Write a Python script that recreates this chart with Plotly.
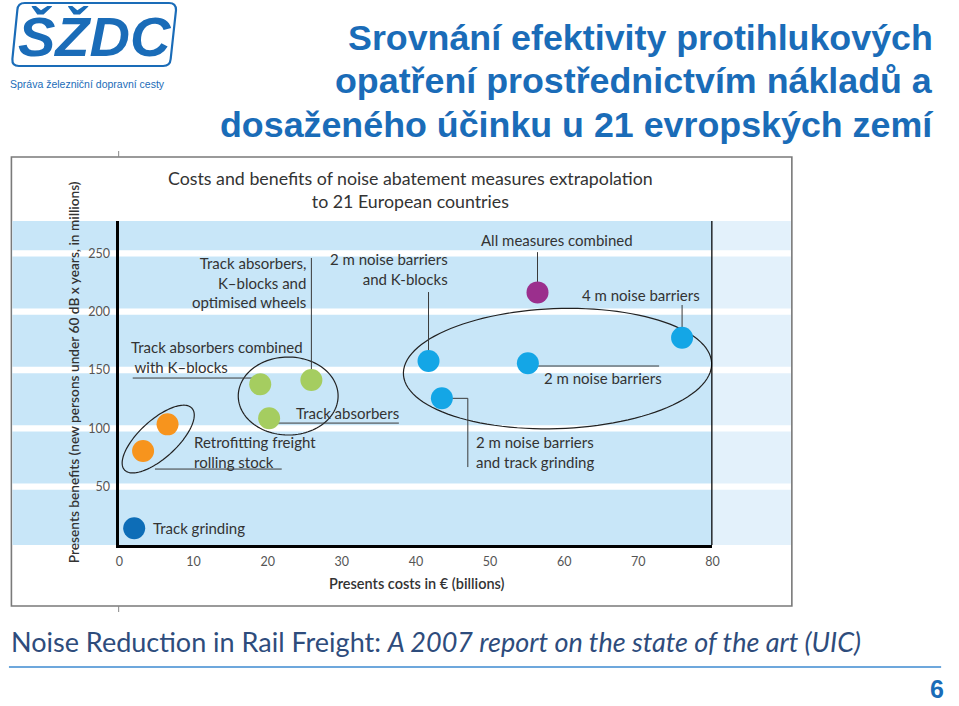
import numpy as np
import plotly.graph_objects as go

# ---------------- data ----------------
measures = [
    "Track grinding",
    "Retrofitting freight rolling stock (a)",
    "Retrofitting freight rolling stock (b)",
    "Track absorbers combined with K-blocks",
    "Track absorbers, K-blocks and optimised wheels",
    "Track absorbers",
    "2 m noise barriers and K-blocks",
    "2 m noise barriers",
    "2 m noise barriers and track grinding",
    "4 m noise barriers",
    "All measures combined",
]
costs = [2.0, 3.2, 6.5, 19.0, 25.9, 20.2, 41.7, 55.1, 43.5, 75.9, 56.4]        # € billions
benefits = [14.3, 80.5, 103.4, 137.7, 141.4, 108.6, 157.7, 155.7, 125.7, 177.7, 216.5]  # millions
groups = ["grind", "retro", "retro", "absorb", "absorb", "absorb",
          "barrier", "barrier", "barrier", "barrier", "all"]
group_colors = {"grind": "#0d6db7", "retro": "#f7941d", "absorb": "#a5cd60",
                "barrier": "#14a6e6", "all": "#9b2f8d"}

x_ticks = [0, 10, 20, 30, 40, 50, 60, 70, 80]
y_ticks = [50, 100, 150, 200, 250]

title_lines = ["Srovnání efektivity protihlukových",
               "opatření prostřednictvím nákladů a",
               "dosaženého účinku u 21 evropských zemí"]

# ---------------- layout geometry ----------------
W, H = 959, 706
X0_PX, X1_PX = 116.7, 716.7
Y0_PX, Y1_PX = 545.0, 221.0
XR = [0, 80]
YR = [0, 277.7]
SX = (X1_PX - X0_PX) / (XR[1] - XR[0])
SY = (Y0_PX - Y1_PX) / (YR[1] - YR[0])


def px(x):
    return x / W


def py(y):
    return 1 - y / H


CHART_FONT = "Lato"
TXT = "#333333"
BLUE = "#1a6cb8"

fig = go.Figure()

colors = [group_colors[g] for g in groups]
fig.add_trace(go.Scatter(
    x=costs, y=benefits, mode="markers",
    marker=dict(size=22, color=colors, line=dict(width=0)),
    text=measures, hoverinfo="text", showlegend=False,
))

shapes = []
# image frame
shapes.append(dict(type="rect", xref="paper", yref="paper", x0=px(7.5), x1=px(797),
                   y0=py(606), y1=py(157), line=dict(color="#7a7a7a", width=1.6),
                   fillcolor="white", layer="below"))
# light blue background areas
shapes.append(dict(type="rect", xref="paper", yref="paper", x0=px(8.5), x1=px(X1_PX),
                   y0=py(Y0_PX), y1=py(Y1_PX), line=dict(width=0),
                   fillcolor="#c8e6f8", layer="below"))
shapes.append(dict(type="rect", xref="paper", yref="paper", x0=px(X1_PX), x1=px(796),
                   y0=py(Y0_PX), y1=py(Y1_PX), line=dict(width=0),
                   fillcolor="#e3f1fb", layer="below"))
# white grid bands across the full width
for v in y_ticks:
    shapes.append(dict(type="rect", xref="paper", yref="y", x0=px(8.5), x1=px(796),
                       y0=v - 2.7, y1=v + 2.7, line=dict(width=0),
                       fillcolor="white", layer="below"))
# right black frame line
shapes.append(dict(type="line", xref="x", yref="paper", x0=XR[1], x1=XR[1],
                   y0=py(Y0_PX), y1=py(Y1_PX), line=dict(color="black", width=2.5)))
# small marks above/below frame
shapes.append(dict(type="line", xref="paper", yref="paper", x0=px(116), x1=px(116),
                   y0=py(151), y1=py(157), line=dict(color="#888", width=1)))
shapes.append(dict(type="line", xref="paper", yref="paper", x0=px(116), x1=px(116),
                   y0=py(606), y1=py(612), line=dict(color="#888", width=1)))


def ellipse_path(cx, cy, a, b, ang, n=120):
    t = np.linspace(0, 2 * np.pi, n)
    th = np.radians(ang)
    ux, uy = a * np.cos(t), b * np.sin(t)
    dx = ux * np.cos(th) - uy * np.sin(th)
    dy = ux * np.sin(th) + uy * np.cos(th)
    xs = cx + dx / SX
    ys = cy + dy / SY
    p = "M %.4f,%.4f " % (xs[0], ys[0])
    p += " ".join("L %.4f,%.4f" % (a_, b_) for a_, b_ in zip(xs[1:], ys[1:]))
    return p + " Z"


# group ellipses: (centre in data units, semi-axes in px, angle)
ellipses = [
    (5.24, 90.8, 46, 19, 42),
    (22.77, 127.7, 50.5, 39, 0),
    (59.1, 151.2, 156, 60, 2),
]
for cx, cy, a, b, ang in ellipses:
    shapes.append(dict(type="path", xref="x", yref="y", path=ellipse_path(cx, cy, a, b, ang),
                       line=dict(color="#222", width=1.2), layer="below"))

# leader lines (data units)
leaders = [
    [(25.9, 246.0), (25.9, 141.4)],
    [(41.7, 216.8), (41.7, 157.7)],
    [(56.4, 251.0), (56.4, 216.5)],
    [(75.9, 205.7), (75.9, 177.7)],
    [(55.1, 153.4), (72.8, 153.4)],
    [(43.5, 125.7), (47.0, 125.7), (47.0, 66.8)],
    [(1.8, 143.1), (19.0, 143.1)],
    [(20.2, 104.5), (37.7, 104.5)],
    [(4.8, 65.1), (21.9, 65.1)],
]
for pts in leaders:
    path = "M %.3f,%.3f " % pts[0] + " ".join("L %.3f,%.3f" % p for p in pts[1:])
    shapes.append(dict(type="path", xref="x", yref="y", path=path,
                       line=dict(color="#3a3a3a", width=1), layer="below"))

# logo outline (rounded parallelogram)
lx0, lx1, ly0, ly1, r, sk = 8, 174, 3, 66, 7, 6
logo_pts = [
    ("M", lx0 + sk + r, ly0), ("L", lx1 - r, ly0), ("Q", lx1, ly0, lx1, ly0 + r),
    ("L", lx1 - sk * 0.9, ly1 - r), ("Q", lx1 - sk, ly1, lx1 - sk - r, ly1),
    ("L", lx0 + r, ly1), ("Q", lx0, ly1, lx0 + 0.5, ly1 - r),
    ("L", lx0 + sk - 0.5, ly0 + r), ("Q", lx0 + sk, ly0, lx0 + sk + r, ly0),
]
lp = ""
for seg in logo_pts:
    if seg[0] == "Q":
        lp += "Q %.5f,%.5f %.5f,%.5f " % (px(seg[1]), py(seg[2]), px(seg[3]), py(seg[4]))
    else:
        lp += "%s %.5f,%.5f " % (seg[0], px(seg[1]), py(seg[2]))
lp += "Z"
shapes.append(dict(type="path", xref="paper", yref="paper", path=lp,
                   line=dict(color=BLUE, width=2.2)))
# slide rule
shapes.append(dict(type="line", xref="paper", yref="paper", x0=px(5), x1=px(948),
                   y0=py(667), y1=py(667), line=dict(color="#3c8ad0", width=1.5)))

ann = []


def lab(text, x, y, xa="left", align="left", size=15):
    ann.append(dict(text=text, x=x, y=y, xref="x", yref="y", xanchor=xa, yanchor="middle",
                    align=align, showarrow=False,
                    font=dict(family=CHART_FONT, size=size, color=TXT)))


lab("Track grinding", 4.3, 14.6)
lab("Retrofitting freight<br>rolling stock", 9.8, 80.1)
lab("Track absorbers combined<br> with K–blocks", 1.3, 161.1)
lab("Track absorbers,<br>K–blocks and<br>optimised wheels", 25.5, 225.4, "right", "right")
lab("Track absorbers", 23.6, 113.1)
lab("2 m noise barriers<br>and K-blocks", 44.6, 236.5, "right", "right")
lab("All measures combined", 59.0, 261.4, "center", "center")
lab("4 m noise barriers", 62.1, 214.2)
lab("2 m noise barriers", 57.0, 143.1)
lab("2 m noise barriers<br>and track grinding", 47.9, 79.7)

# chart title & axis titles
ann.append(dict(text="Costs and benefits of noise abatement measures extrapolation<br>to 21 European countries",
                x=px(411), y=py(189), xref="paper", yref="paper", xanchor="center", yanchor="middle",
                align="center", showarrow=False, font=dict(family=CHART_FONT, size=17.8, color=TXT)))
ann.append(dict(text="Presents costs in € (billions)", x=px(418), y=py(583), xref="paper", yref="paper",
                xanchor="center", yanchor="middle", showarrow=False,
                font=dict(family=CHART_FONT, size=14.5, color=TXT, weight=600)))
ann.append(dict(text="Presents benefits (new persons under 60 dB x years, in millions)",
                x=px(70), y=py(372), xref="paper", yref="paper", textangle=-90,
                xanchor="center", yanchor="middle", showarrow=False,
                font=dict(family=CHART_FONT, size=13.7, color=TXT, weight=600)))

# slide title (one annotation per line for exact spacing)
for line, yc in zip(title_lines, [38, 81, 125]):
    ann.append(dict(text=line, x=px(942), y=py(yc), xref="paper", yref="paper",
                    xanchor="right", yanchor="middle", align="right", showarrow=False,
                    font=dict(family="Liberation Sans", size=35.8, color=BLUE, weight="bold")))
# logo text
ann.append(dict(text="<b><i>ŠŽDC</i></b>", x=px(92), y=py(36), xref="paper", yref="paper",
                xanchor="center", yanchor="middle", showarrow=False,
                font=dict(family="Liberation Sans", size=56, color=BLUE)))
ann.append(dict(text="Správa železniční dopravní cesty", x=px(4), y=py(84), xref="paper", yref="paper",
                xanchor="left", yanchor="middle", showarrow=False,
                font=dict(family="Liberation Sans", size=10.5, color=BLUE)))
# caption
ann.append(dict(text="Noise Reduction in Rail Freight: <i>A 2007 report on the state of the art (UIC)</i>",
                x=px(5), y=py(641), xref="paper", yref="paper", xanchor="left", yanchor="middle",
                showarrow=False, font=dict(family="Lato", size=27, color="#2e4c7c")))
# page number
ann.append(dict(text="<b>6</b>", x=px(944), y=py(689), xref="paper", yref="paper",
                xanchor="center", yanchor="middle", showarrow=False,
                font=dict(family="Liberation Sans", size=25, color=BLUE)))

fig.update_layout(
    width=W, height=H, margin=dict(l=0, r=0, t=0, b=0),
    paper_bgcolor="white", plot_bgcolor="rgba(0,0,0,0)",
    shapes=shapes, annotations=ann, showlegend=False,
    xaxis=dict(domain=[px(X0_PX), px(X1_PX)], range=XR, tickvals=x_ticks,
               showgrid=False, zeroline=False, showline=True, linecolor="black", linewidth=2.5,
               ticks="", ticklabelstandoff=3,
               tickfont=dict(family=CHART_FONT, size=12.5, color="#555")),
    yaxis=dict(domain=[py(Y0_PX), py(Y1_PX)], range=YR, tickvals=y_ticks,
               showgrid=False, zeroline=False, showline=True, linecolor="black", linewidth=2.5,
               ticks="", ticklabelstandoff=4,
               tickfont=dict(family=CHART_FONT, size=12.5, color="#555")),
)

fig.write_html("out.html")
